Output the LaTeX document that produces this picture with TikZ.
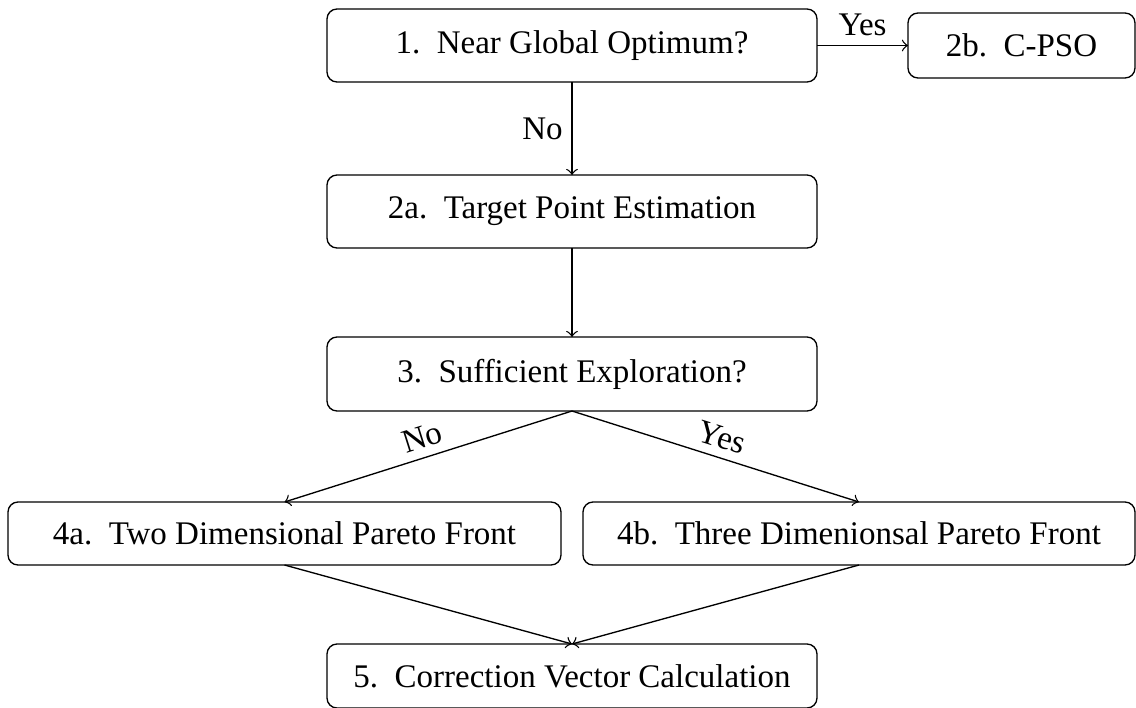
\documentclass[tikz,border=0pt]{standalone}
\usepackage{fontspec}
\setmainfont{Liberation Serif}
\begin{document}
\begin{tikzpicture}[x=0.3pt,y=-0.3pt,
  box/.style={draw,rounded corners=3pt,inner sep=0pt,outer sep=0pt,align=center,font=\fontsize{9.9pt}{12pt}\selectfont},
  arr/.style={->,line width=0.4pt},
  lab/.style={font=\fontsize{9.9pt}{12pt}\selectfont,inner sep=2.6pt}]
\useasboundingbox (0,0) rectangle (1136,707);
\node[box,minimum width=147pt,minimum height=21.9pt] (n1) at (572,45.5) {1.\ \ Near Global Optimum?};
\node[box,minimum width=68.1pt,minimum height=19.5pt] (n2b) at (1021.5,45.5) {2b.\ \ C-PSO};
\node[box,minimum width=147pt,minimum height=21.9pt] (n2a) at (572,211.5) {2a.\ \ Target Point Estimation};
\node[box,minimum width=147pt,minimum height=22.2pt] (n3) at (572,374) {3.\ \ Sufficient Exploration?};
\node[box,minimum width=165.9pt,minimum height=18.9pt] (n4a) at (284.5,533.5) {4a.\ \ Two Dimensional Pareto Front};
\node[box,minimum width=165.6pt,minimum height=18.9pt] (n4b) at (859,533.5) {4b.\ \ Three Dimenionsal Pareto Front};
\node[box,minimum width=147pt,minimum height=19.2pt] (n5) at (572,676) {5.\ \ Correction Vector Calculation};
\draw[arr] (n1) -- node[lab,midway,left] {No} (n2a);
\draw[arr] (n1) -- node[lab,midway,above] {Yes} (n2b);
\draw[arr] (n2a) -- (n3);
\draw[arr] (n3.south) -- node[lab,midway,above,sloped] {No} (n4a.north);
\draw[arr] (n3.south) -- node[lab,midway,above,sloped] {Yes} (n4b.north);
\draw[arr] (n4a.south) -- (n5.north);
\draw[arr] (n4b.south) -- (n5.north);
\end{tikzpicture}
\end{document}
